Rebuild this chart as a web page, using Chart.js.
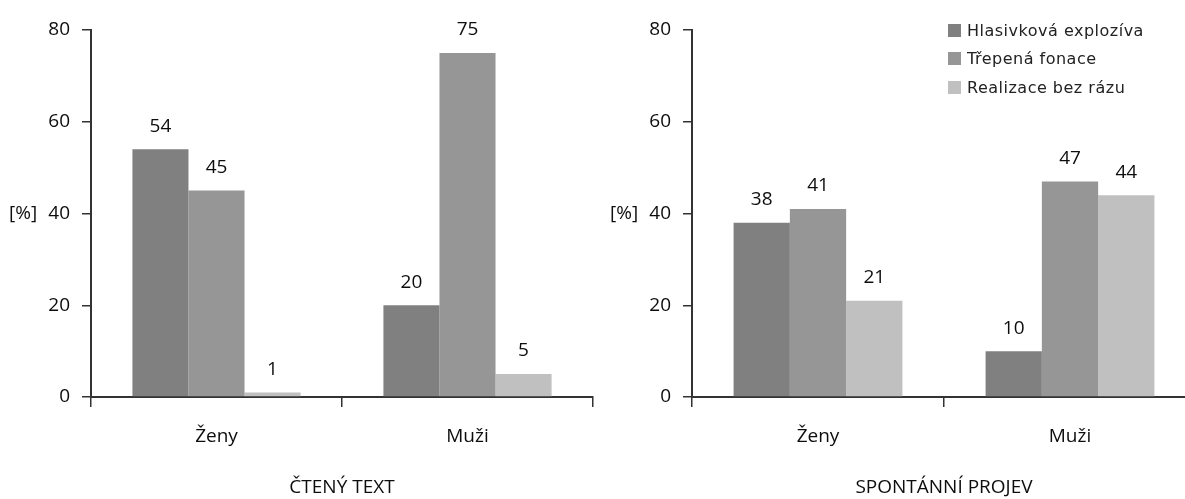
<!DOCTYPE html>
<html>
<head>
<meta charset="utf-8">
<title>Realizace rázu</title>
<script src="https://cdn.jsdelivr.net/npm/chart.js@4.4.1/dist/chart.umd.min.js"></script>
<style>
  html, body { margin: 0; padding: 0; background: #ffffff; }
  body { width: 1185px; height: 499px; overflow: hidden; position: relative; }
  .panel { position: absolute; top: 0; width: 600px; height: 499px; }
  #legend {
    position: absolute; left: 948px; top: 16px;
    font-family: "DejaVu Sans", sans-serif; font-size: 16px; letter-spacing: 0.5px; color: #222222;
  }
  #legend .row { height: 28.5px; display: flex; align-items: center; white-space: nowrap; }
  #legend .sw { width: 13px; height: 13px; margin-right: 6px; flex: none; }
</style>
</head>
<body>
<div class="panel" id="p1" style="left:0px"><canvas id="c1"></canvas></div>
<div class="panel" id="p2" style="left:601px"><canvas id="c2"></canvas></div>
<div id="legend"></div>
<script>
// Categories, series and tick values
const categories = ['Ženy', 'Muži'];
const seriesNames = ['Hlasivková explozíva', 'Třepená fonace', 'Realizace bez rázu'];

// Čtený text [%]
const readExplosive = [54, 20];
const readCreaky = [45, 75];
const readNoGlottal = [1, 5];

// Spontánní projev [%]
const spontExplosive = [38, 10];
const spontCreaky = [41, 47];
const spontNoGlottal = [21, 44];

const yTicks = [0, 20, 40, 60, 80];
const panelTitles = ['ČTENÝ TEXT', 'SPONTÁNNÍ PROJEV'];
const unitLabel = '[%]';

// Styling
const fills = ['#808080', '#969696', '#c0c0c0'];
const inkColor = '#0d0d0d';
const axisColor = '#333333';
const baseFont = '"Open Sans", sans-serif';
const textSize = 19;

Chart.defaults.font.family = baseFont;
Chart.defaults.color = inkColor;

const valueLabels = {
  id: 'valueLabels',
  afterDatasetsDraw(chart) {
    const ctx = chart.ctx;
    ctx.save();
    ctx.font = textSize + 'px ' + baseFont;
    ctx.fillStyle = inkColor;
    ctx.textAlign = 'center';
    ctx.textBaseline = 'middle';
    chart.data.datasets.forEach((ds, i) => {
      chart.getDatasetMeta(i).data.forEach((bar, j) => {
        ctx.fillText(String(ds.data[j]), bar.x, bar.y - 23);
      });
    });
    ctx.restore();
  }
};

const unitText = {
  id: 'unitText',
  afterDraw(chart) {
    const ctx = chart.ctx;
    const y = chart.scales.y.getPixelForValue(40);
    ctx.save();
    ctx.font = textSize + 'px ' + baseFont;
    ctx.fillStyle = inkColor;
    ctx.textAlign = 'left';
    ctx.textBaseline = 'middle';
    ctx.fillText(unitLabel, 9, y);
    ctx.restore();
  }
};

function makeChart(canvasId, values, title, rightPad) {
  return new Chart(document.getElementById(canvasId), {
    type: 'bar',
    data: {
      labels: categories,
      datasets: values.map((v, i) => ({
        label: seriesNames[i],
        data: v,
        backgroundColor: fills[i],
        borderWidth: 0,
        categoryPercentage: 0.67,
        barPercentage: 1.0
      }))
    },
    options: {
      responsive: true,
      maintainAspectRatio: false,
      animation: false,
      layout: { padding: { top: 30, right: rightPad, left: 0, bottom: 0 } },
      plugins: { legend: { display: false }, tooltip: { enabled: false } },
      scales: {
        x: {
          grid: { display: true, drawOnChartArea: false, offset: true, tickLength: 10, color: axisColor, lineWidth: 1.5 },
          border: { display: true, color: axisColor, width: 2 },
          ticks: { padding: 18, font: { size: textSize }, color: inkColor },
          title: { display: true, text: title, font: { size: textSize }, color: inkColor, padding: { top: 0, bottom: 0 } },
          afterFit(scale) { scale.height = 102; }
        },
        y: {
          min: 0,
          max: 80,
          afterBuildTicks(scale) { scale.ticks = yTicks.map(v => ({ value: v })); },
          grid: { display: true, drawOnChartArea: false, tickLength: 9, color: axisColor, lineWidth: 1.5 },
          border: { display: true, color: axisColor, width: 2 },
          ticks: { padding: 12, font: { size: textSize }, color: inkColor },
          afterFit(scale) { scale.width = 91; }
        }
      }
    },
    plugins: [valueLabels, unitText]
  });
}

makeChart('c1', [readExplosive, readCreaky, readNoGlottal], panelTitles[0], 7);
makeChart('c2', [spontExplosive, spontCreaky, spontNoGlottal], panelTitles[1], 5);

// Shared legend
const legend = document.getElementById('legend');
seriesNames.forEach((name, i) => {
  const row = document.createElement('div');
  row.className = 'row';
  const sw = document.createElement('span');
  sw.className = 'sw';
  sw.style.background = fills[i];
  const tx = document.createElement('span');
  tx.textContent = name;
  row.appendChild(sw);
  row.appendChild(tx);
  legend.appendChild(row);
});
</script>
</body>
</html>
